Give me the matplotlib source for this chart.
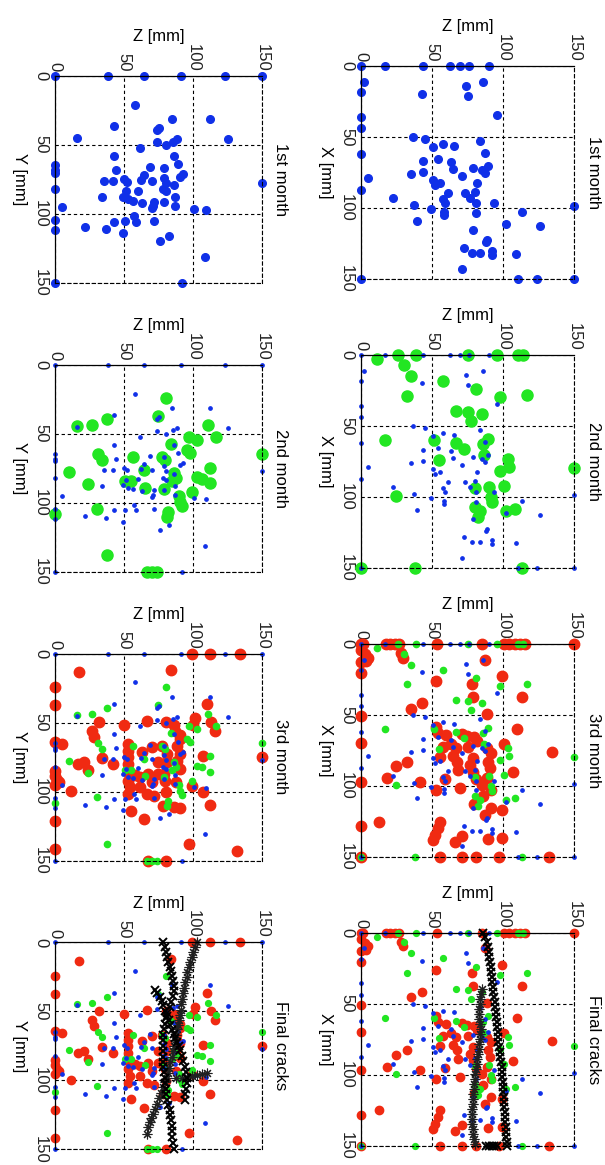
import numpy as np
import matplotlib
matplotlib.use('Agg')
import matplotlib.pyplot as plt

plt.rcParams['font.family'] = ['Liberation Sans', 'DejaVu Sans']

# event locations (Z, X) seen from the side, and (Z, Y) seen from the top
blue_xz = np.array([
    [0, 0], [16.9, 0], [43.4, 0], [62.6, 0], [69.6, 0], [75.9, 0], [90.2, 0],
    [2.1, 11.2], [0, 18.3], [0, 35.8], [0, 44], [0, 62], [5.2, 79], [0, 87.3], [0, 150],
    [86, 11.2], [73.8, 14.3], [43.1, 19.9], [75, 21.3], [95.9, 34.6], [36.8, 50.3], [45, 51.7],
    [50.9, 56.9], [57.9, 55], [65.4, 56.2], [83.7, 52.7], [87.4, 61.1], [53.9, 65.5], [43.4, 66.9],
    [63.1, 67.9], [64.5, 72.5], [70.8, 77.2], [79, 72.1], [84.9, 73.2], [89.5, 70.2], [87.2, 75.6],
    [35.2, 76.3], [43.4, 74.9], [50.9, 80.3], [55.5, 82.6], [52, 83.8], [81.8, 82.6], [80.2, 88.5],
    [61.4, 89.2], [73.1, 89.2], [77.1, 93.1], [22.3, 92.7], [57.4, 93.8], [59.1, 96.6], [81.3, 96.6],
    [93.5, 96.6], [37.5, 97.8], [49.2, 100.9], [58.4, 102.5], [58.4, 104.8], [80.9, 103.2],
    [113.4, 103], [150, 98.5], [39.1, 108.8], [102, 111.1], [126.3, 112.5], [79, 115.4],
    [88.8, 122.4], [87.9, 123.6], [72.4, 128.2], [78.5, 131.8], [83.7, 131.8], [92.6, 130],
    [92.6, 133], [109.4, 132.5], [71.2, 142.5], [110.6, 150], [124, 150], [150, 150]])

blue_yz = np.array([
    [0, 0], [38.7, 0], [64.6, 0], [91.4, 0], [123.4, 0], [150, 0],
    [0, 64.6], [0, 68.2], [0, 70.2], [0, 82], [4.8, 95.3], [0, 104.5], [0, 111.8], [0, 150],
    [15.7, 45.2], [58, 21], [84.7, 31.2], [112, 31.2], [43.1, 36.8], [75, 38], [73.8, 39.7],
    [125.3, 46], [88.3, 46], [85.4, 47.7], [73.8, 48.4], [80.3, 50.1], [61.7, 52.5], [86.4, 58.5],
    [43.1, 58.5], [89, 63.9], [68.9, 66.3], [79.3, 67], [44.2, 68.2], [64.8, 72.3], [92.6, 71.1],
    [90.7, 73.1], [79.3, 73.8], [50.3, 74.7], [35.8, 76.2], [42.3, 76.2], [52, 76.7], [70.2, 76.2],
    [62.2, 75.5], [80.3, 77.4], [86, 79.1], [78.6, 82.2], [59.8, 83.2], [51.5, 83.9], [80.3, 83.9],
    [33.9, 88.1], [49.6, 87.6], [52.7, 89.5], [56.4, 90.5], [62.9, 91.9], [71.8, 91.2], [79.3, 91.2],
    [86.6, 88.1], [87.1, 94.3], [70.9, 94.3], [70.2, 96], [100.4, 96.5], [109.6, 97.2], [57.6, 101.6],
    [58.8, 105.7], [50.8, 105.2], [43.1, 105.7], [72.1, 105], [21.8, 109.8], [37, 111.3],
    [49.6, 113.7], [82.7, 116.1], [76.2, 119.5], [108.9, 131.1], [91.9, 150], [150, 77.4]])

green_xz = np.array([
    [11.5, 3], [25.8, 0], [38.7, 0], [75, 0], [95.9, 0], [110.6, 0], [114.2, 0], [30.2, 7],
    [34.9, 14.7], [57.4, 18.2], [80.9, 24], [32.6, 28.7], [97.7, 29.9], [117.2, 28.5], [66.6, 39.7],
    [75, 40.4], [84.9, 42], [77.3, 46.7], [16.9, 60], [51.6, 60], [89.1, 59], [85.6, 63], [66.6, 62.3],
    [72.4, 66.5], [86.7, 70.5], [55.1, 74.2], [103.6, 73.5], [104.3, 78.9], [97.7, 81.7], [150, 79.8],
    [100.6, 92.2], [90.2, 93.3], [80.2, 94], [91.9, 100.3], [92.6, 103.8], [24.6, 99.2], [102.4, 109.7],
    [108.3, 108.5], [80.2, 107.3], [83.7, 109.7], [82.5, 114.3], [0, 150], [38, 150], [113.4, 150]])

green_yz = np.array([
    [80.3, 24.1], [74.5, 37.6], [38, 39.3], [26.6, 43.6], [16.2, 44.8], [110.6, 43.6], [116.8, 52.5],
    [97.2, 52.5], [102.8, 54.4], [84.2, 57.3], [95.6, 62.1], [98, 63.8], [31.4, 65], [33.9, 68.9],
    [56.4, 66.9], [77.4, 66.9], [79.8, 69.4], [150, 65], [112.5, 74.6], [64.6, 76.6], [86.4, 78.5],
    [10.2, 77.8], [87.8, 81.9], [84.7, 84.3], [102.8, 81.4], [106.4, 82.6], [112.5, 85.7], [50.8, 84.5],
    [54.9, 84.5], [24.2, 86.7], [79.3, 89.8], [65.3, 89.1], [99.2, 92.2], [89.5, 95.4], [90.7, 99.5],
    [91.9, 102.6], [30.2, 104.3], [0, 108.4], [82.2, 106.7], [81.5, 110.3], [37.5, 138],
    [66.5, 150], [70.2, 150], [73.8, 150]])

red_xz = np.array([
    [0, 0], [1.6, 0], [17.6, 0], [20.4, 0], [23.9, 0], [27, 0], [53.2, 0], [84.9, 0], [100.6, 0],
    [104.3, 0], [108.3, 0], [111.8, 0], [115.3, 0], [150, 0], [0, 4.7], [2.8, 7.5], [5.2, 9.8],
    [3.5, 12.4], [0, 12.8], [27.9, 6.5], [29.3, 9.8], [0, 20.6], [87.2, 11.2], [99.4, 22.9],
    [52.7, 26], [78.3, 28.7], [79, 37.4], [113.7, 37.8], [43.1, 42], [35.2, 45.6], [88.4, 49.8], [0, 50.7],
    [52.7, 58.4], [53.9, 62.6], [60.2, 64.2], [71.3, 63.8], [74.3, 64.9], [79.5, 65.4], [81.8, 68.4],
    [63.1, 70.8], [57.9, 72.4], [66.8, 73.1], [75.5, 72.9], [88.4, 73.6], [91.9, 76.6], [100.6, 70.8],
    [110.2, 60.3], [134.8, 75.9], [0, 69.6], [55.5, 79.4], [64.9, 79], [67.3, 82.9], [79, 80.6],
    [77.1, 85.3], [89.5, 82.9], [32.1, 82.9], [24.6, 86], [68.4, 88.8], [79, 89.9], [90.7, 87.6],
    [106.7, 90.4], [18, 94.6], [41.5, 96.9], [59.1, 95.3], [81.3, 95.1], [88.4, 94.6], [0, 96.9],
    [52.7, 102.8], [69.6, 101.6], [85.3, 99.3], [91.2, 102.8], [85.6, 107], [79.5, 112.6],
    [91.9, 115.6], [99.4, 116.8], [87.2, 120.3], [12.7, 125], [0, 128], [55.5, 125], [53.9, 129.6],
    [52, 134.3], [50.4, 137.8], [70.8, 135.5], [66.1, 139.7], [89.5, 137.4], [99.6, 136.7],
    [0, 150], [55.5, 150], [71.3, 150], [80.9, 150], [97.3, 150], [132.4, 150]])

red_yz = np.array([
    [99.2, 0], [112, 0], [134.3, 0], [17.4, 13.3], [84.2, 12.1], [0, 24.1], [0, 37.1], [110.1, 36.7],
    [0, 63.9], [4.8, 65.6], [0, 84.9], [0, 88.5], [1.7, 91.4], [3.1, 93.3], [0, 95], [11.6, 99.9],
    [0, 121.6], [0, 141.6], [31.9, 49.4], [50.1, 51.6], [66.5, 48.7], [80.3, 49.4], [85.9, 51.6],
    [87.1, 56], [90.7, 58.9], [101.1, 46.8], [99.7, 51.6], [112.9, 49.4], [115.6, 56.4], [26.6, 56],
    [28.3, 60.3], [52.7, 65.6], [52.7, 70.4], [52.7, 75.3], [52.7, 80.1], [52.7, 86.1], [53.2, 92.1],
    [54.4, 97], [53.2, 101.8], [62.9, 71.6], [70.2, 68], [77.4, 67.3], [81.5, 72.8], [88.3, 66.8],
    [90.7, 62], [90.7, 72.8], [88.3, 77.7], [81.5, 78.9], [74.3, 78.9], [90.7, 83.7], [33.9, 76],
    [42.3, 80.1], [16.9, 80.1], [21.1, 78.9], [24.2, 84.4], [58.1, 87.8], [61.7, 89.7], [67.2, 87.3],
    [74.5, 87.3], [79.3, 87.3], [80, 92.1], [70.2, 93.3], [61.7, 97], [66.5, 101.8], [71.8, 103],
    [80.3, 100.6], [87.6, 93.3], [99.2, 95.7], [107.2, 100.6], [107.2, 74.5], [150, 75.3],
    [112.5, 109.5], [78.6, 110.2], [85.9, 111.4], [90.7, 111.9], [54.9, 113.8], [64.6, 119.9],
    [96.8, 138], [131.8, 143.3], [67.7, 150], [80.3, 150]])

# final crack traces (x markers and * markers)
crack_x_xz = np.array([
    [86.1, 0], [87.3, 3.5], [88.5, 7], [89.5, 10.5], [90, 14], [90.4, 17.5], [90.8, 21], [91.3, 24.5],
    [91.7, 28], [92.1, 31.5], [92.5, 35], [92.9, 38.5], [93.3, 42], [93.7, 45.5], [94.1, 49],
    [94.5, 52.5], [94.9, 56], [95.3, 59.5], [95.7, 63], [96, 66.5], [96.3, 70], [96.5, 73.5],
    [96.7, 77], [97.1, 80.5], [97.6, 84], [98.1, 87.5], [98.6, 91], [99, 94.5], [99.3, 98],
    [99.5, 101.5], [99.7, 105], [99.9, 108.5], [100.1, 112], [100.4, 115.5], [100.7, 119],
    [100.9, 122.5], [101.2, 126], [101.4, 129.5], [101.6, 133], [101.9, 136.5], [102.1, 140],
    [102.3, 143.5], [102.6, 147], [102.7, 150],
    [88, 150], [90, 150], [92, 150], [94, 150], [96, 150]])

crack_s_xz = np.array([
    [85, 40], [84.6, 43.5], [84.1, 47], [83.7, 50.5], [83.3, 54], [83, 57.5], [82.8, 61], [83.5, 64.5],
    [84.3, 68], [84, 71.5], [83.6, 75], [83.2, 78.5], [82.8, 82], [82.5, 85.5], [82, 89], [81.4, 92.5],
    [80.9, 96], [80.4, 99.5], [80.1, 103], [79.8, 106.5], [79.5, 110], [79.2, 113.5], [78.9, 117],
    [78.6, 120.5], [78.4, 124], [78.3, 127.5], [78.3, 131], [78.5, 134.5], [78.8, 138], [79.2, 141.5],
    [79.8, 145], [80.3, 148.5]])

crack_x_yz = np.array([
    [78.6, 0], [79.5, 3.5], [80.3, 7], [81, 10.5], [82, 14], [83, 17.5], [83.8, 21], [84.5, 24.5],
    [85.2, 28], [85.9, 31.5], [86.5, 35], [85.5, 39], [84, 43], [83, 47], [81.5, 51], [80.5, 55],
    [79.5, 59], [79, 63], [78.6, 67], [78.3, 71], [78, 75], [78, 79], [78.3, 83], [78.6, 87],
    [78.6, 90.3], [79, 94], [79.5, 98], [80, 102], [80.3, 106], [80.6, 110], [81, 114.4], [82, 118],
    [83, 121.5], [83.5, 125], [84, 129], [84.5, 133], [84.7, 137], [85, 141], [85.4, 145], [85.9, 149.5],
    [72.6, 34.5], [74, 37], [76.2, 39.7], [77.5, 42.5], [78.6, 45.7], [80, 49.5], [81, 53], [82.3, 56.5],
    [83.5, 60.2], [84.7, 63.2], [85.9, 66.2], [87, 69.2], [88.3, 72.2], [89.5, 75], [90.7, 78],
    [92, 82], [93, 86], [94, 90], [95, 94], [95.5, 98], [95.5, 102], [95, 106], [94.3, 110], [94, 114]])

crack_s_yz = np.array([
    [102.8, 0], [101.5, 3.5], [100.3, 7], [99.2, 10.8], [98, 14.5], [96.8, 18], [96, 21.5], [95.3, 25],
    [94.3, 29], [93.5, 33], [92.5, 37], [91.9, 41], [91.5, 45], [91.2, 49], [90.7, 52.5], [90, 56],
    [89.2, 59.5], [88.3, 63], [87.6, 67], [87, 71], [86.4, 75], [85.5, 79], [84.5, 83], [83.5, 87],
    [82.8, 91], [82.2, 94.5], [81, 98], [79.8, 101.5], [78.6, 105], [77, 109], [75.5, 113],
    [73.8, 117], [72.5, 120.5], [71, 124], [69.5, 127], [68.5, 130.5], [67.5, 134], [66.5, 138.5],
    [88, 98.5], [92, 98], [95.6, 97.5], [99, 97], [102.8, 96.3], [106.5, 95.5], [110, 94.6]])

titles = ['1st month', '2nd month', '3rd month', 'Final cracks']
ticks = [0, 50, 100, 150]
tick_labels = ['0', '50', '100', '150']

BLUE = '#1030e8'
GREEN = '#22e622'
RED = '#f02a12'
DASH = (0, (3, 2.5))

W, H = 605, 1165
fig = plt.figure(figsize=(W / 100, H / 100), dpi=100)


def setup(ax, ylabel, title):
    ax.set_xlim(0, 150)
    ax.set_ylim(150, 0)
    ax.xaxis.tick_top()
    ax.xaxis.set_label_position('top')
    ax.set_xticks(ticks, tick_labels, rotation=-90, fontsize=12)
    ax.set_yticks(ticks, tick_labels, rotation=-90, va='center', fontsize=12)
    ax.tick_params(length=0, colors='#222222')
    ax.tick_params(axis='x', pad=3)
    ax.tick_params(axis='y', pad=5)
    ax.set_xlabel('Z [mm]', fontsize=12, labelpad=2)
    ax.set_ylabel(ylabel, fontsize=12, rotation=-90, rotation_mode='default',
                  ha='right', va='center', labelpad=4)
    # far edges are dashed like the grid, near edges solid
    for s in ['right', 'bottom']:
        ax.spines[s].set_linestyle(DASH)
        ax.spines[s].set_linewidth(0.8)
    for s in ['top', 'left']:
        ax.spines[s].set_linewidth(0.9)
    ax.grid(True, color='k', ls=DASH, lw=0.8)
    ax.set_axisbelow(True)
    ax.text(1.055, 0.5, title, transform=ax.transAxes, rotation=-90,
            ha='left', va='center', fontsize=12)


def dots(ax, pts, color, ms):
    ax.plot(pts[:, 0], pts[:, 1], 'o', color=color, mec=color, ms=ms, clip_on=False)


for i in range(4):
    axr = fig.add_axes([361 / W, 1 - (279.3 + 288.9 * i) / H, 213 / W, 213.5 / H])
    axl = fig.add_axes([55 / W, 1 - (282.7 + 288.9 * i) / H, 207 / W, 207 / H])
    for ax, lab, b, g, r, cx, cs in [
            (axr, 'X [mm]', blue_xz, green_xz, red_xz, crack_x_xz, crack_s_xz),
            (axl, 'Y [mm]', blue_yz, green_yz, red_yz, crack_x_yz, crack_s_yz)]:
        setup(ax, lab, titles[i])
        if i == 0:
            dots(ax, b, BLUE, 5.5)
        elif i == 1:
            dots(ax, g, GREEN, 8)
            dots(ax, b, BLUE, 2.4)
        elif i == 2:
            dots(ax, r, RED, 7.5)
            dots(ax, g, GREEN, 4.5)
            dots(ax, b, BLUE, 2.4)
        else:
            dots(ax, r, RED, 6)
            dots(ax, g, GREEN, 4.2)
            dots(ax, b, BLUE, 2.4)
            ax.plot(cs[:, 0], cs[:, 1], ls='none', marker=(8, 2, 0), color='#202020',
                    ms=7, mew=0.8, clip_on=False)
            ax.plot(cx[:, 0], cx[:, 1], ls='none', marker='x', color='k',
                    ms=5.5, mew=1.4, clip_on=False)

fig.savefig('out.png', dpi=100)
